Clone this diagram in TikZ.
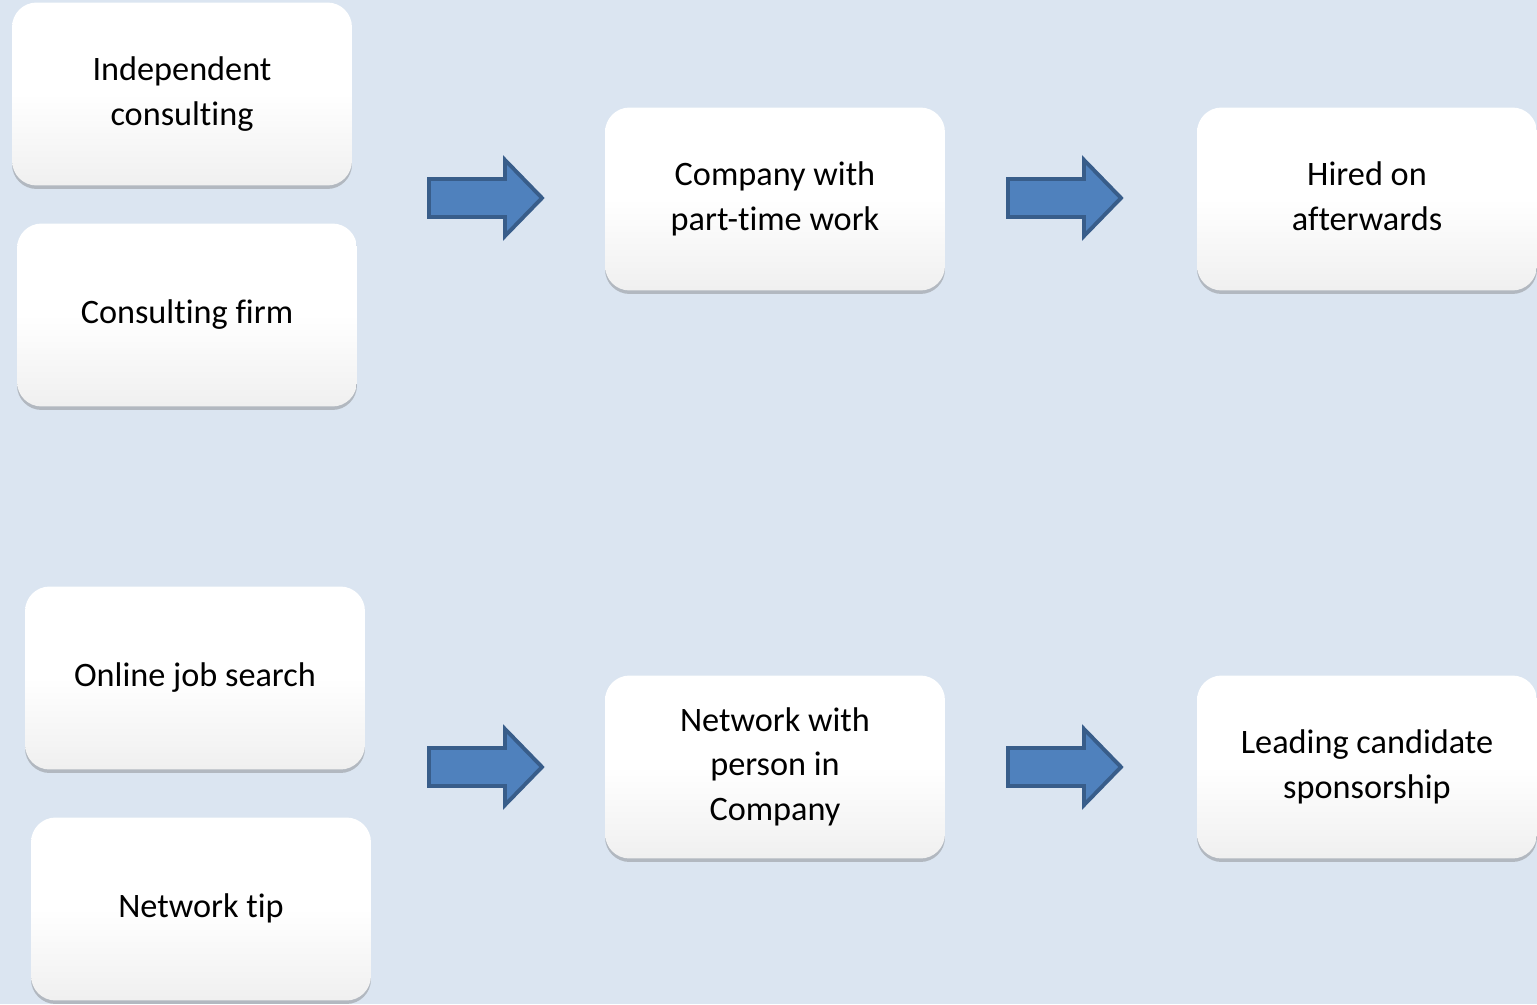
\documentclass[tikz,border=0pt]{standalone}
\usepackage{fontspec}
\setmainfont{Carlito}[Ligatures=NoCommon]
\usetikzlibrary{shadows}
\definecolor{pagebg}{HTML}{DBE5F1}
\definecolor{arrowfill}{HTML}{4F81BD}
\definecolor{arrowedge}{HTML}{385D8A}
\tikzset{
  card/.style={rounded corners=14pt, minimum width=6.8cm, minimum height=3.66cm,
    inner sep=0pt, align=center, top color=white, bottom color=black!6, middle color=white,
    font=\fontsize{19.5}{25.5}\selectfont, text depth=0.12cm,
    drop shadow={shadow xshift=0pt, shadow yshift=-0.07cm, opacity=0.35, fill=black!60}},
  arrowline/.style={fill=arrowfill, draw=arrowedge, line width=2.2pt, line join=miter},
  blockarrow/.pic={\draw[arrowline] (0,-19) -- (76,-19) -- (76,-38) -- (113,0) -- (76,38) -- (76,19) -- (0,19) -- cycle;}
}
\begin{document}
\begin{tikzpicture}[x=0.02cm, y=-0.02cm]
                \fill[pagebg] (0,0) rectangle (1537,1004);
                \useasboundingbox (0,0) rectangle (1537,1004);
                % top row
                \node[card] (indep) at (182,94) {Independent\\consulting};
                \node[card] (firm) at (187,315) {Consulting firm};
                \node[card] (parttime) at (775,199) {Company with\\part-time work};
                \node[card] (hired) at (1367,199) {Hired on\\afterwards};
                % bottom row
                \node[card] (online) at (195,678) {Online job search};
                \node[card] (tip) at (201,909) {Network tip};
                \node[card] (contact) at (775,767) {Network with\\person in\\Company};
                \node[card] (sponsor) at (1367,767) {Leading candidate\\sponsorship};
                \foreach \ax/\ay in {429/198, 1008/198, 429/767, 1008/767}
                    \pic at (\ax,\ay) {blockarrow};
            \end{tikzpicture}
\end{document}
